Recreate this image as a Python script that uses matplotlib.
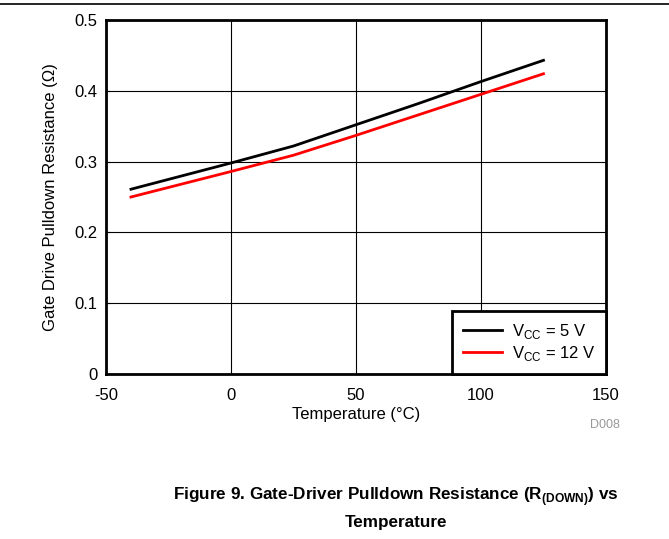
import numpy as np
import matplotlib.pyplot as plt
from matplotlib.lines import Line2D

plt.rcParams['font.family'] = ['Liberation Sans', 'DejaVu Sans']
plt.rcParams['axes.unicode_minus'] = False
plt.rcParams['mathtext.fontset'] = 'custom'
plt.rcParams['mathtext.rm'] = 'Liberation Sans'
plt.rcParams['mathtext.bf'] = 'Liberation Sans:bold'

# Temperature points (degC) and pulldown resistance (ohm)
temp = [-40, 0, 25, 50, 75, 100, 125]
r_5v = [0.261, 0.298, 0.322, 0.352, 0.382, 0.413, 0.443]
r_12v = [0.250, 0.286, 0.309, 0.337, 0.366, 0.395, 0.424]

x_ticks = [-50, 0, 50, 100, 150]
y_ticks = [0, 0.1, 0.2, 0.3, 0.4, 0.5]
y_labels = ['0', '0.1', '0.2', '0.3', '0.4', '0.5']

fig = plt.figure(figsize=(6.69, 5.39), dpi=100)
ax = fig.add_axes([0.1584, 0.306, 0.7474, 0.657])

ax.plot(temp, r_5v, color='black', lw=2, label=r'V$_{\mathregular{CC}}$ = 5 V')
ax.plot(temp, r_12v, color='#ff0000', lw=2, label=r'V$_{\mathregular{CC}}$ = 12 V')

ax.set_xlim(-50, 150)
ax.set_ylim(0, 0.5)
ax.set_xticks(x_ticks)
ax.set_yticks(y_ticks)
ax.set_yticklabels(y_labels)
ax.tick_params(axis='x', length=0, labelsize=12, pad=10)
ax.tick_params(axis='y', direction='in', length=3, labelsize=12, pad=6)
ax.grid(True, color='black', lw=0.8)
for s in ax.spines.values():
    s.set_linewidth(2)

ax.set_xlabel('Temperature (°C)', fontsize=12, labelpad=3)
ax.set_ylabel('Gate Drive Pulldown Resistance (Ω)', fontsize=12, labelpad=12)

leg = ax.legend(loc='lower right', fontsize=12, fancybox=False, framealpha=1,
                edgecolor='black', borderaxespad=0, handlelength=2.3,
                handletextpad=0.6, labelspacing=0.2, borderpad=0.65)
leg.get_frame().set_linewidth(2)

fig.text(0.926, 0.211, 'D008', color='#999999', fontsize=9, ha='right', va='center')

# rule across the top
fig.add_artist(Line2D([0, 1], [0.992, 0.992], color='black', lw=1.2,
                      transform=fig.transFigure))

fig.text(0.592, 0.078, 'Figure 9. Gate-Driver Pulldown Resistance (R$_{\\mathbf{(DOWN)}}$) vs',
         fontsize=12.3, fontweight='bold', ha='center', va='center')
fig.text(0.592, 0.03, 'Temperature', fontsize=12.3, fontweight='bold',
         ha='center', va='center')

fig.savefig('out.png', dpi=100)
